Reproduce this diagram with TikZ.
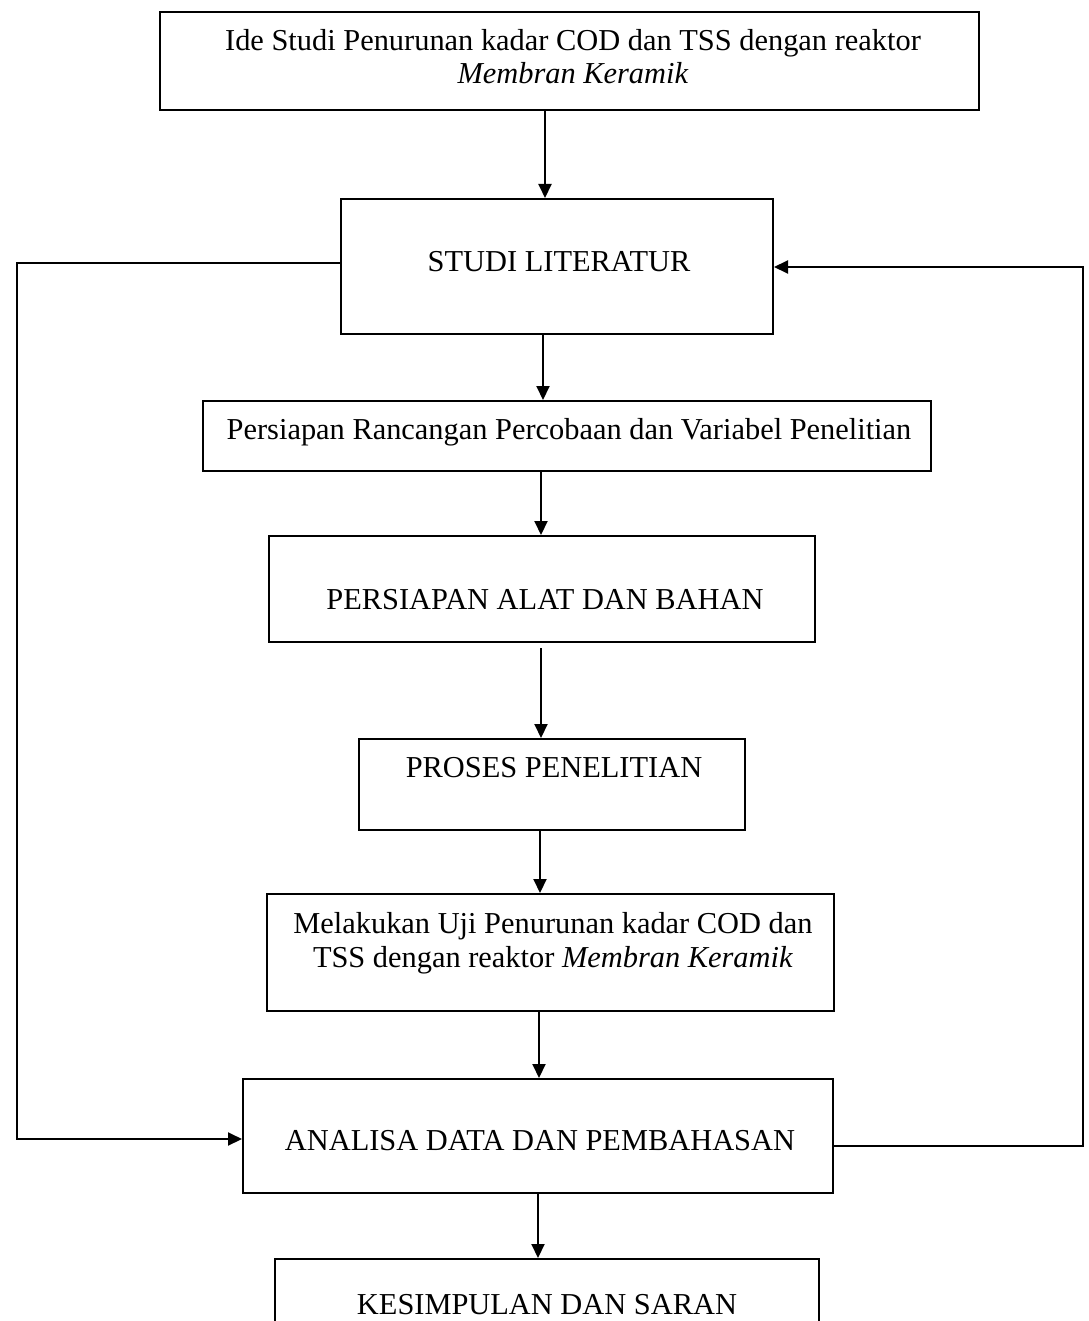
\documentclass[tikz,border=0pt]{standalone}
\usepackage{fontspec}
\setmainfont{Liberation Serif}
\usetikzlibrary{arrows.meta}
\begin{document}
\begin{tikzpicture}[x=0.5pt,y=-0.5pt,
  box/.style={draw,line width=1pt,inner sep=0pt},
  txt/.style={inner sep=0pt,font=\fontsize{15.2}{17}\selectfont,align=center},
  conn/.style={line width=1pt},
  arr/.style={conn,-{Triangle[length=7pt,width=6.5pt]}}]
\useasboundingbox (0,0) rectangle (1088,1321);
\fill[white] (0,0) rectangle (1088,1321);
% boxes
\node[box,minimum width=409.5pt,minimum height=49pt,anchor=north west] (b1) at (159,11) {};
\node[box,minimum width=216pt,minimum height=67.5pt,anchor=north west] (b2) at (340,198) {};
\node[box,minimum width=364pt,minimum height=35pt,anchor=north west] (b3) at (202,400) {};
\node[box,minimum width=273pt,minimum height=53pt,anchor=north west] (b4) at (268,535) {};
\node[box,minimum width=193pt,minimum height=45.5pt,anchor=north west] (b5) at (358,738) {};
\node[box,minimum width=283.5pt,minimum height=58.5pt,anchor=north west] (b6) at (266,893) {};
\node[box,minimum width=295pt,minimum height=57pt,anchor=north west] (b7) at (242,1078) {};
\node[box,minimum width=272pt,minimum height=60pt,anchor=north west] (b8) at (274,1258) {};
% texts
\node[txt] (t1) at (573,57) {Ide Studi Penurunan kadar COD dan TSS dengan reaktor\\[-0.5pt] \textit{Membran Keramik}};
\node[txt] (t2) at (559,262) {STUDI LITERATUR};
\node[txt] (t3) at (569,432) {Persiapan Rancangan Percobaan dan Variabel Penelitian};
\node[txt] (t4) at (545,600) {PERSIAPAN ALAT DAN BAHAN};
\node[txt] (t5) at (554,768) {PROSES PENELITIAN};
\node[txt] (t6) at (553,943) {Melakukan Uji Penurunan kadar COD dan\\ TSS dengan reaktor \textit{Membran Keramik}};
\node[txt] (t7) at (540,1141) {ANALISA DATA DAN PEMBAHASAN};
\node[txt] (t8) at (547,1305) {KESIMPULAN DAN SARAN};
% connectors
\draw[arr] (b1.south -| 545,0) -- (b2.north -| 545,0);
\draw[arr] (b2.south -| 543,0) -- (b3.north -| 543,0);
\draw[arr] (b3.south -| 541,0) -- (b4.north -| 541,0);
\coordinate (c4) at (541,648);
\draw[arr] (c4) -- (b5.north -| 541,0);
\draw[arr] (b5.south -| 540,0) -- (b6.north -| 540,0);
\draw[arr] (b6.south -| 539,0) -- (b7.north -| 539,0);
\draw[arr] (b7.south -| 538,0) -- (b8.north -| 538,0);
% feedback loops
\draw[arr] (b2.west |- 0,263) -- (17,263) -- (17,1139) -- (b7.west |- 0,1139);
\draw[arr] (b7.east |- 0,1146) -- (1083,1146) -- (1083,267) -- (b2.east |- 0,267);
\end{tikzpicture}
\end{document}
